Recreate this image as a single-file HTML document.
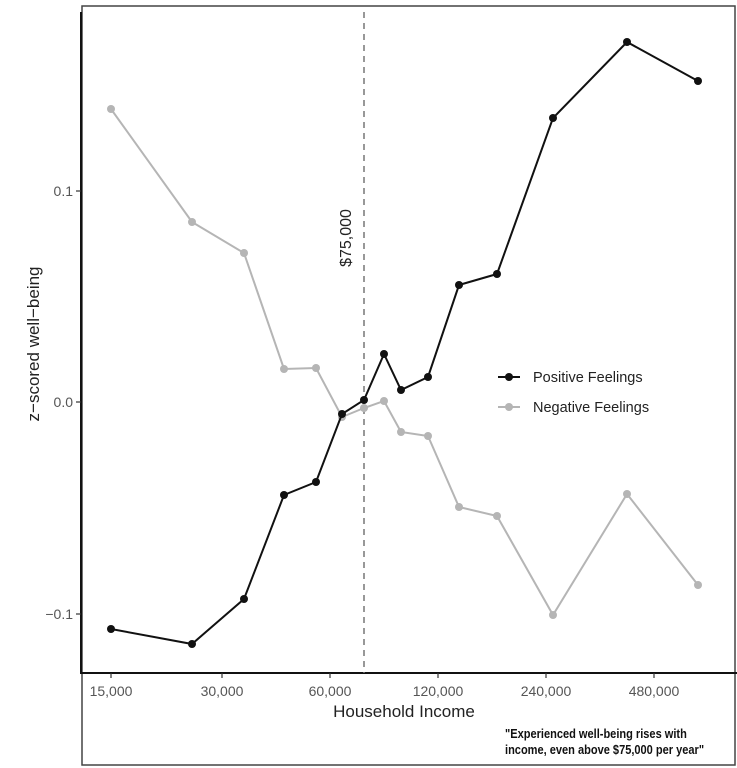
<!DOCTYPE html>
<html><head><style>
html,body{margin:0;padding:0;background:#fff;width:737px;height:768px;overflow:hidden}
svg{display:block}
</style></head><body>
<svg width="737" height="768" xmlns="http://www.w3.org/2000/svg" font-family="Liberation Sans, sans-serif">
<rect x="82" y="6" width="653" height="759" fill="none" stroke="#444" stroke-width="1.5"/>
<line x1="81" y1="12" x2="81" y2="674" stroke="#111" stroke-width="2"/>
<line x1="80" y1="673" x2="737" y2="673" stroke="#111" stroke-width="2"/>
<g stroke="#333" stroke-width="1.2">
<line x1="76" y1="191" x2="81" y2="191"/><line x1="76" y1="402" x2="81" y2="402"/><line x1="76" y1="614" x2="81" y2="614"/>
<line x1="111" y1="673" x2="111" y2="678"/><line x1="222" y1="673" x2="222" y2="678"/><line x1="330" y1="673" x2="330" y2="678"/><line x1="438" y1="673" x2="438" y2="678"/><line x1="546" y1="673" x2="546" y2="678"/><line x1="654" y1="673" x2="654" y2="678"/>
</g>
<g font-size="14" fill="#555" text-anchor="end">
<text x="73" y="196">0.1</text><text x="73" y="407">0.0</text><text x="73" y="619">−0.1</text>
</g>
<g font-size="14" fill="#555" text-anchor="middle">
<text x="111" y="696">15,000</text><text x="222" y="696">30,000</text><text x="330" y="696">60,000</text><text x="438" y="696">120,000</text><text x="546" y="696">240,000</text><text x="654" y="696">480,000</text>
</g>
<text x="404" y="717" font-size="17" fill="#222" text-anchor="middle">Household Income</text>
<text transform="translate(39,344) rotate(-90)" font-size="17" fill="#222" text-anchor="middle">z−scored well−being</text>
<line x1="364" y1="12" x2="364" y2="673" stroke="#777" stroke-width="1.5" stroke-dasharray="6,5"/>
<text transform="translate(351,238) rotate(-90)" font-size="16" fill="#222" text-anchor="middle">$75,000</text>
<polyline fill="none" stroke="#b5b5b5" stroke-width="2" points="111,109 192,222 244,253 284,369 316,368 342,417 364,408 384,401 401,432 428,436 459,507 497,516 553,615 627,494 698,585"/>
<g fill="#b5b5b5">
<circle cx="111" cy="109" r="4"/><circle cx="192" cy="222" r="4"/><circle cx="244" cy="253" r="4"/><circle cx="284" cy="369" r="4"/><circle cx="316" cy="368" r="4"/><circle cx="342" cy="417" r="4"/><circle cx="364" cy="408" r="4"/><circle cx="384" cy="401" r="4"/><circle cx="401" cy="432" r="4"/><circle cx="428" cy="436" r="4"/><circle cx="459" cy="507" r="4"/><circle cx="497" cy="516" r="4"/><circle cx="553" cy="615" r="4"/><circle cx="627" cy="494" r="4"/><circle cx="698" cy="585" r="4"/>
</g>
<polyline fill="none" stroke="#111" stroke-width="2" points="111,629 192,644 244,599 284,495 316,482 342,414 364,400 384,354 401,390 428,377 459,285 497,274 553,118 627,42 698,81"/>
<g fill="#111">
<circle cx="111" cy="629" r="4"/><circle cx="192" cy="644" r="4"/><circle cx="244" cy="599" r="4"/><circle cx="284" cy="495" r="4"/><circle cx="316" cy="482" r="4"/><circle cx="342" cy="414" r="4"/><circle cx="364" cy="400" r="4"/><circle cx="384" cy="354" r="4"/><circle cx="401" cy="390" r="4"/><circle cx="428" cy="377" r="4"/><circle cx="459" cy="285" r="4"/><circle cx="497" cy="274" r="4"/><circle cx="553" cy="118" r="4"/><circle cx="627" cy="42" r="4"/><circle cx="698" cy="81" r="4"/>
</g>
<line x1="498" y1="377" x2="520" y2="377" stroke="#111" stroke-width="2"/><circle cx="509" cy="377" r="4" fill="#111"/>
<line x1="498" y1="407" x2="520" y2="407" stroke="#b5b5b5" stroke-width="2"/><circle cx="509" cy="407" r="4" fill="#b5b5b5"/>
<text x="533" y="382" font-size="14.5" fill="#222">Positive Feelings</text>
<text x="533" y="412" font-size="14.5" fill="#222">Negative Feelings</text>
<g font-size="13" font-weight="bold" fill="#111" transform="translate(505,0) scale(0.85,1)">
<text x="0" y="738">"Experienced well-being rises with</text>
<text x="0" y="754">income, even above $75,000 per year"</text>
</g>
</svg>
</body></html>
